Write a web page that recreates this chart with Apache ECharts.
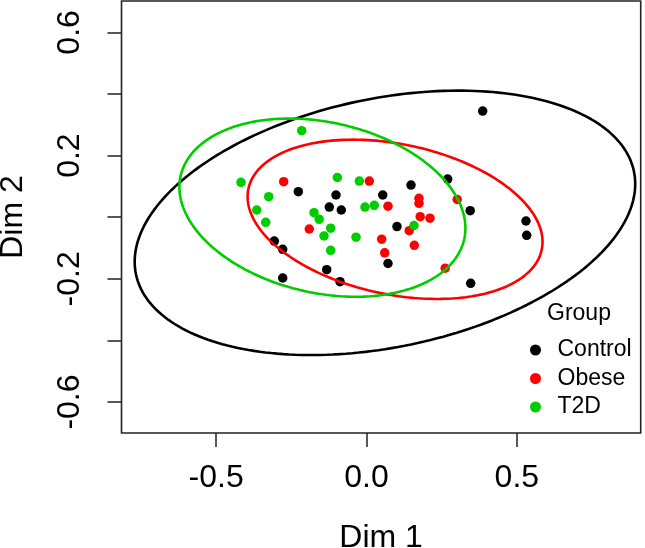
<!DOCTYPE html>
<html><head><meta charset="utf-8">
<script src="https://cdn.jsdelivr.net/npm/echarts@6/dist/echarts.min.js"></script>
<style>html,body{margin:0;padding:0;background:#fff}#c{width:645px;height:548px}</style>
</head><body><div id="c"></div>
<script>
const groups = ['Control', 'Obese', 'T2D'];
const groupColors = ['#000000', '#FF0000', '#00CD00'];

const controlX = [0.3864, -0.2268, 0.1480, 0.2700, -0.1014, 0.0539, -0.1237, -0.0838, 0.3449, 0.1014, 0.0715, -0.1324, -0.0881, 0.3465, -0.3066, -0.2787, -0.2787, 0.5304, 0.5328];
const controlY = [0.3448, 0.0828, 0.1045, 0.1240, 0.0721, 0.0721, 0.0331, 0.0234, 0.0211, -0.0302, -0.1503, -0.1705, -0.2094, -0.2146, -0.0773, -0.1042, -0.1974, -0.0123, -0.0588];

const obeseX = [-0.2754, 0.0093, 0.1746, 0.1746, 0.3016, 0.0715, 0.1786, 0.2112, -0.1902, 0.1420, 0.0505, 0.1590, 0.0605, 0.2617];
const obeseY = [0.1153, 0.1175, 0.0614, 0.0451, 0.0575, 0.0357, 0.0016, -0.0032, -0.0383, -0.0438, -0.0714, -0.0912, -0.1156, -0.1653];

const t2dX = [-0.2155, -0.4174, -0.3252, -0.3651, -0.3352, -0.0971, -0.0239, -0.0050, 0.0259, -0.1746, -0.1573, -0.1191, 0.1580, -0.1413, -0.0349, -0.1191];
const t2dY = [0.2808, 0.1133, 0.0666, 0.0234, -0.0166, 0.1289, 0.1175, 0.0331, 0.0386, 0.0146, -0.0068, -0.0357, -0.0269, -0.0610, -0.0649, -0.1075];

const xTicks = [-0.5, 0.0, 0.5];
const yTicks = [-0.6, -0.4, -0.2, 0.0, 0.2, 0.4, 0.6];
const yTickLabels = [-0.6, -0.2, 0.2, 0.6];
const ellipseLevel = 0.99;

const groupXs = [controlX, obeseX, t2dX];
const groupYs = [controlY, obeseY, t2dY];

function pairs(xs, ys) { return xs.map((x, i) => [x, ys[i]]); }

// covariance (data) ellipse at given level, computed from the group's points
function dataEllipse(xs, ys, level, segs) {
  const n = xs.length;
  const mx = xs.reduce((a, b) => a + b, 0) / n;
  const my = ys.reduce((a, b) => a + b, 0) / n;
  let sxx = 0, syy = 0, sxy = 0;
  for (let i = 0; i < n; i++) {
    sxx += (xs[i] - mx) ** 2; syy += (ys[i] - my) ** 2; sxy += (xs[i] - mx) * (ys[i] - my);
  }
  sxx /= (n - 1); syy /= (n - 1); sxy /= (n - 1);
  const k = Math.sqrt(-2 * Math.log(1 - level));
  const l11 = Math.sqrt(sxx), l21 = sxy / l11, l22 = Math.sqrt(syy - l21 * l21);
  const out = [];
  for (let j = 0; j <= segs; j++) {
    const t = 2 * Math.PI * j / segs;
    const c = Math.cos(t), s = Math.sin(t);
    out.push([mx + k * l11 * c, my + k * (l21 * c + l22 * s)]);
  }
  return out;
}

const FONT = '"Liberation Sans", Arial, Helvetica, sans-serif';
const series = [];
groups.forEach((g, i) => {
  series.push({
    name: g, type: 'scatter', data: pairs(groupXs[i], groupYs[i]),
    symbol: 'circle', symbolSize: 9.5,
    itemStyle: { color: groupColors[i], opacity: 1 },
    emphasis: { disabled: true }, z: 2
  });
});
groups.forEach((g, i) => {
  series.push({
    name: g + ' ellipse', type: 'line', data: dataEllipse(groupXs[i], groupYs[i], ellipseLevel, 240),
    showSymbol: false, smooth: false,
    lineStyle: { color: groupColors[i], width: 2.6 },
    emphasis: { disabled: true }, z: 3 + i, animation: false
  });
});

const chart = echarts.init(document.getElementById('c'), null, { renderer: 'canvas' });
chart.setOption({
  animation: false,
  backgroundColor: '#ffffff',
  textStyle: { fontFamily: FONT },
  grid: { left: 121.5, right: 4.3, top: 1, bottom: 115, show: true, borderColor: '#222', borderWidth: 1.6, backgroundColor: 'transparent', containLabel: false, outerBoundsMode: 'none' },
  xAxis: {
    type: 'value', min: -0.8148, max: 0.9119,
    splitLine: { show: false },
    axisLine: { show: false, onZero: false },
    axisTick: { show: true, length: 14, customValues: xTicks, lineStyle: { color: '#222', width: 1.5 } },
    axisLabel: { customValues: xTicks, formatter: v => v.toFixed(1), fontSize: 32, color: '#000', margin: 29, fontFamily: FONT },
    name: 'Dim 1', nameLocation: 'middle', nameGap: 89,
    nameTextStyle: { fontSize: 32, color: '#000', fontFamily: FONT }
  },
  yAxis: {
    type: 'value', min: -0.7006, max: 0.702,
    splitLine: { show: false },
    axisLine: { show: false, onZero: false },
    axisTick: { show: true, length: 14, customValues: yTicks, lineStyle: { color: '#222', width: 1.5 } },
    axisLabel: { customValues: yTickLabels, formatter: v => v.toFixed(1), rotate: 90, fontSize: 32, color: '#000', margin: 35, fontFamily: FONT },
    name: 'Dim 2', nameLocation: 'middle', nameGap: 92, nameRotate: 90,
    nameTextStyle: { fontSize: 32, color: '#000', fontFamily: FONT }
  },
  legend: {
    data: groups, orient: 'vertical', left: 525, top: 333,
    icon: 'circle', itemWidth: 34, itemHeight: 11, itemGap: 4.5,
    textStyle: { fontSize: 23, color: '#000', lineHeight: 24, fontFamily: FONT },
    selectedMode: false
  },
  graphic: [{
    type: 'text', left: 547, top: 302,
    style: { text: 'Group', fontSize: 23, fill: '#000', fontFamily: FONT }
  }],
  series: series
});
</script>
</body></html>
